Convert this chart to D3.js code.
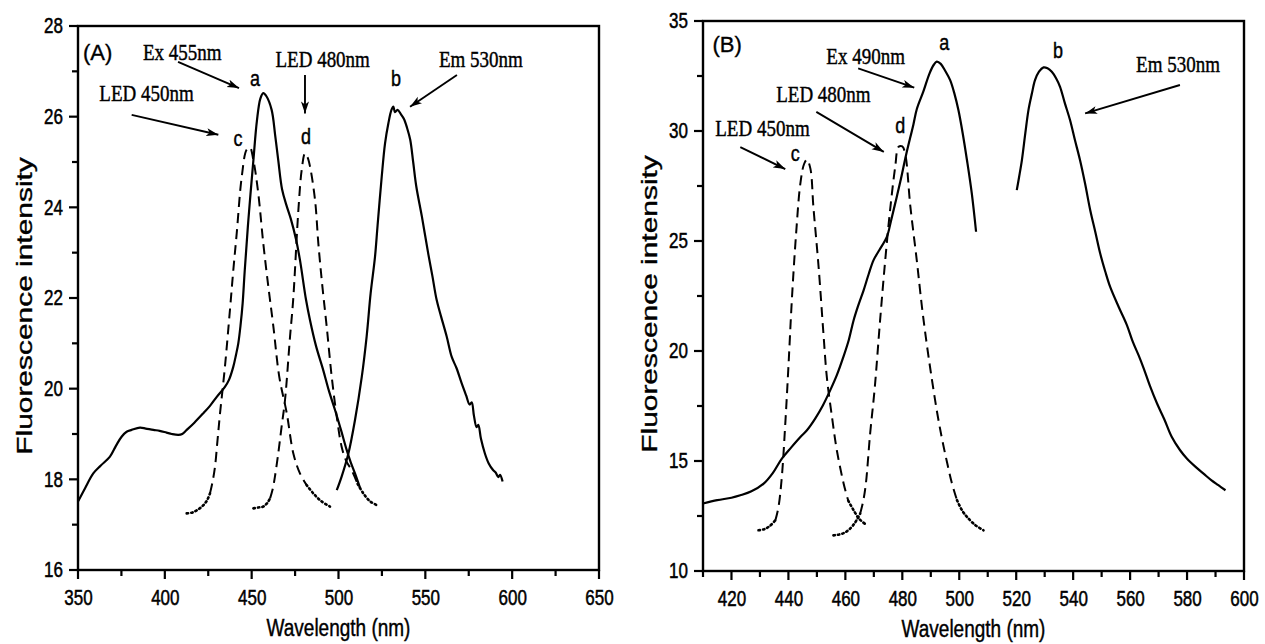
<!DOCTYPE html>
<html><head><meta charset="utf-8">
<script src="https://cdn.jsdelivr.net/npm/d3@7"></script>
<style>body{margin:0;background:#fff}svg{display:block}</style>
</head><body>
<svg id="chart" width="1265" height="644" viewBox="0 0 1265 644"></svg>
<script>
// ---------- Panel A data (wavelength nm, intensity) ----------
const exA = [[350,17.51],[354,17.8],[358.8,18.13],[363,18.3],[368.4,18.5],[372,18.75],[375.1,18.94],[378,19.05],[380.9,19.09],[385.7,19.14],[389,19.12],[393.4,19.09],[397,19.07],[401,19.03],[404,19.0],[407.8,18.98],[410,19.0],[412.6,19.09],[417,19.25],[422.2,19.46],[426,19.62],[429.9,19.82],[434.6,20.04],[437,20.2],[439.4,20.48],[441,20.75],[442.3,21.0],[443.6,21.4],[444.8,21.88],[446,22.6],[448.1,23.72],[451,25.04],[453,25.9],[455,26.4],[456.7,26.52],[458.5,26.45],[461.5,26.15],[463.5,25.6],[465.3,25.04],[467.5,24.4],[470,24.05],[472.5,23.75],[475.5,23.3],[477.8,22.84],[481.3,21.96],[483.6,21.51],[487,20.95],[491.2,20.41],[494.5,19.95],[498,19.53],[501.5,19.08],[504.7,18.65],[507,18.38],[509.5,18.13],[512.5,17.8]];
const emA = [[499,17.76],[501.8,18.06],[505.7,18.57],[509.5,19.31],[513.4,20.26],[516.2,21.15],[518.5,22.1],[521,22.9],[522.5,23.6],[524.9,24.68],[526.8,25.41],[528.7,25.85],[530.5,26.15],[531.6,26.22],[532.5,26.1],[534,26.15],[536,26.05],[537.7,25.95],[539.5,25.75],[541.3,25.49],[543,25.0],[544.8,24.46],[548,23.8],[551.8,22.95],[554,22.5],[556.5,21.96],[559,21.6],[562.3,21.15],[565.2,20.7],[568,20.45],[570.9,20.12],[573.5,19.85],[575.5,19.65],[576.7,19.7],[578,19.4],[579.5,19.15],[580.5,19.2],[582,18.9],[584.3,18.57],[586.5,18.35],[589.1,18.2],[590.5,18.15],[592,18.05],[593,18.1],[594.5,17.95]];
const led450A = [[412.6,17.25],[416,17.27],[419,17.33],[422.2,17.43],[424.5,17.55],[426,17.69],[427.5,17.95],[428.9,18.28],[430.3,18.85],[431.8,19.46],[434.6,20.48],[437.5,21.74],[439.4,22.6],[441.4,23.43],[444.3,24.68],[447.1,25.27],[449,25.32],[451,25.04],[453.8,24.31],[456.7,23.2],[459.6,22.25],[462.5,21.37],[465.9,20.26],[470.2,19.46],[474,18.57],[477.8,18.13],[481.5,17.88],[485.5,17.69],[490,17.52],[495.1,17.4]];
const led480A = [[451,17.36],[454,17.38],[456.7,17.4],[458.8,17.47],[460.6,17.58],[462.2,17.8],[463.4,18.06],[465.3,18.57],[467.2,19.15],[469.2,19.75],[472.1,21.15],[473.9,21.96],[476.9,23.94],[478.8,24.82],[480.7,25.19],[482.2,25.1],[483.6,24.9],[486.5,24.16],[488.4,23.2],[490.6,22.3],[493.2,21.37],[496.1,20.26],[499,19.38],[501.8,18.72],[504.5,18.4],[507.6,18.2],[511,17.9],[514.3,17.69],[518,17.52],[522,17.43]];

// ---------- Panel B data ----------
const exB = [[410,13.07],[415,13.22],[420,13.33],[423.1,13.44],[427,13.62],[431.3,13.97],[434.5,14.45],[437.7,15.11],[441,15.62],[444.2,16.09],[446.5,16.4],[449.4,16.93],[452,17.5],[454.7,18.22],[457,18.9],[459.3,19.73],[461.2,20.5],[462.9,21.4],[464.6,22.1],[466.4,22.76],[468.2,23.5],[469.9,24.13],[472,24.6],[474.6,25.2],[476,25.9],[477.5,26.71],[479.3,27.7],[481.3,28.9],[483.9,30.3],[485.1,31.0],[487.4,31.8],[489.5,32.6],[491,33.0],[492.1,33.15],[493.5,33.05],[495,32.75],[496.8,32.31],[498.3,31.7],[499.7,30.95],[501.2,29.9],[502.7,28.68],[504.4,27.16],[505.9,25.42]];
const emB = [[520.2,27.31],[521,27.9],[522,28.68],[523.2,29.9],[524.3,30.95],[525.5,31.7],[526.6,32.31],[528,32.7],[529.6,32.89],[531,32.85],[532.5,32.69],[534,32.4],[535.4,32.01],[537,31.3],[538.9,30.5],[540.6,29.6],[542.4,28.68],[544.2,27.6],[546,26.4],[547.8,25.4],[549.5,24.43],[551.3,23.6],[553,22.91],[556,22.0],[558.8,21.2],[561,20.4],[563,19.8],[564.8,19.2],[567,18.4],[569.5,17.6],[572,16.9],[574.6,16.1],[577.5,15.5],[580,15.1],[583,14.73],[586,14.4],[588.6,14.12],[591,13.9],[593.5,13.67]];
const led450B = [[429.5,11.85],[431.5,11.9],[433.5,12.05],[435.4,12.3],[436.5,12.9],[437.7,14.3],[438.9,16.7],[440,19.28],[441.2,22.31],[442.7,25.34],[444.2,27.62],[445.5,28.5],[446.5,28.7],[447.7,28.3],[448.8,26.5],[450.6,23.82],[452.3,20.79],[453.5,18.8],[455.3,17.0],[457,15.49],[459.4,13.97],[461,13.2],[462.9,12.76],[465,12.35],[467.6,12.08]];
const led480B = [[455.8,11.62],[459,11.7],[461,11.85],[463.2,12.16],[465.2,12.61],[466.3,13.2],[467.2,13.97],[468.7,16.25],[470.3,18.3],[472.2,21.4],[474,24.13],[475.7,26.4],[477.5,28.37],[478.7,29.28],[480,29.3],[481,28.98],[482.8,26.6],[485.1,24.1],[486.9,22.0],[488.6,20.3],[490.4,18.7],[492.1,17.3],[493.8,16.1],[495.6,15.0],[497.4,14.0],[499.2,13.22],[501,12.75],[502.7,12.46],[505.5,12.1],[508.5,11.85]];

// ---------- Ticks ----------
const xTicksA = [350,400,450,500,550,600,650];
const xMinorA = [375,425,475,525,575,625];
const yTicksA = [16,18,20,22,24,26,28];
const yMinorA = [17,19,21,23,25,27];
const xTicksB = [420,440,460,480,500,520,540,560,580,600];
const xMinorB = [410,430,450,470,490,510,530,550,570,590];
const yTicksB = [10,15,20,25,30,35];
const yMinorB = [12.5,17.5,22.5,27.5,32.5];

// ---------- Annotations (data coordinates) ----------
const labelsA = [
  {t:"(A)", x:352.9, y:27.25, kind:"panel"},
  {t:"Ex 455nm", x:387.4, y:27.25, kind:"serif"},
  {t:"LED 480nm", x:463.7, y:27.10, kind:"serif"},
  {t:"Em 530nm", x:557.8, y:27.10, kind:"serif"},
  {t:"LED 450nm", x:362.3, y:26.35, kind:"serif"},
  {t:"a", x:451.9, y:26.68, kind:"letter"},
  {t:"b", x:533.1, y:26.68, kind:"letter"},
  {t:"c", x:442.1, y:25.35, kind:"letter"},
  {t:"d", x:481.3, y:25.40, kind:"letter"}
];
const arrowsA = [
  [407.6,27.21,442.7,26.63],
  [480.7,26.92,480.7,26.07],
  [568.2,26.92,541.2,26.22],
  [380.9,26.04,430.8,25.60]
];
const labelsB = [
  {t:"(B)", x:413.3, y:33.59, kind:"panel"},
  {t:"Ex 490nm", x:453.3, y:33.04, kind:"serif"},
  {t:"Em 530nm", x:562.1, y:32.68, kind:"serif"},
  {t:"LED 480nm", x:435.7, y:31.32, kind:"serif"},
  {t:"LED 450nm", x:414.3, y:29.77, kind:"serif"},
  {t:"a", x:494.7, y:33.68, kind:"letter"},
  {t:"b", x:534.7, y:33.31, kind:"letter"},
  {t:"d", x:479.3, y:29.91, kind:"letter"},
  {t:"c", x:442.4, y:28.64, kind:"letter"}
];
const arrowsB = [
  [464.5,32.85,484.2,31.97],
  [577.5,32.09,544.2,30.80],
  [449.8,30.87,473.5,29.05],
  [423.1,29.27,438.9,28.27]
];

const svg = d3.select("#chart");
const defs = svg.append("defs");
defs.append("marker").attr("id","ah").attr("markerUnits","userSpaceOnUse")
  .attr("markerWidth",13).attr("markerHeight",9).attr("refX",12).attr("refY",4.5)
  .attr("orient","auto")
  .append("path").attr("d","M0,0.5 L12,4.5 L0,8.5 L3,4.5 Z").attr("fill","#000");

const SANS = "'Liberation Sans', Arial, Helvetica, sans-serif";
const SERIF = "'Liberation Serif', 'Times New Roman', serif";
const INK = "#000";
const TK = 1.25;

function drawPanel(p) {
  const x = d3.scaleLinear().domain(p.xDom).range([p.left, p.right]);
  const y = d3.scaleLinear().domain(p.yDom).range([p.bottom, p.top]);
  const g = svg.append("g");
  const line = d3.line().x(d => x(d[0])).y(d => y(d[1])).curve(d3.curveCatmullRom.alpha(0.5));

  p.series.forEach(s => {
    if (s.dashed) {
      const segs = [];
      let cur = null;
      s.data.forEach(d => {
        const tail = d[1] < s.thr;
        if (!cur || cur.tail !== tail) {
          const prev = cur ? cur.pts[cur.pts.length - 1] : null;
          cur = {tail, pts: prev ? [prev] : []};
          segs.push(cur);
        }
        cur.pts.push(d);
      });
      segs.forEach(sg => {
        g.append("path").attr("d", line(sg.pts)).attr("fill","none")
          .attr("stroke",INK).attr("stroke-width", sg.tail ? 2.6 : 2)
          .attr("stroke-dasharray", sg.tail ? "1.5,3" : "10,6")
          .attr("stroke-linecap", sg.tail ? "round" : "butt");
      });
    } else {
      g.append("path").attr("d", line(s.data)).attr("fill","none")
        .attr("stroke",INK).attr("stroke-width",2.2).attr("stroke-linejoin","round");
    }
  });

  // frame
  g.append("rect").attr("x",p.left).attr("y",p.top)
    .attr("width",p.right-p.left).attr("height",p.bottom-p.top)
    .attr("fill","none").attr("stroke","#000").attr("stroke-width",2.4);

  // tick marks (outward)
  const tk = g.append("g").attr("fill","#000");
  p.xMajor.forEach(v => tk.append("rect").attr("x",x(v)-1.1).attr("y",p.bottom).attr("width",2.2).attr("height",9));
  p.xMinor.forEach(v => tk.append("rect").attr("x",x(v)-1.1).attr("y",p.bottom).attr("width",2.2).attr("height",6));
  p.yMajor.forEach(v => tk.append("rect").attr("y",y(v)-1.1).attr("x",p.left-9).attr("height",2.2).attr("width",9));
  p.yMinor.forEach(v => tk.append("rect").attr("y",y(v)-1.1).attr("x",p.left-6).attr("height",2.2).attr("width",6));

  // tick labels via d3 axes
  const xa = g.append("g").attr("transform",`translate(0,${p.bottom})`)
    .call(d3.axisBottom(x).tickValues(p.xMajor).tickSize(0).tickPadding(0).tickFormat(d3.format("d")));
  const ya = g.append("g").attr("transform",`translate(${p.left},0)`)
    .call(d3.axisLeft(y).tickValues(p.yMajor).tickSize(0).tickPadding(15).tickFormat(d3.format("d")));
  xa.select(".domain").remove();
  ya.select(".domain").remove();
  g.selectAll(".tick line").remove();
  g.selectAll(".tick text").attr("font-family",SANS).attr("font-size",17).attr("fill",INK)
    .attr("stroke",INK).attr("stroke-width",0.4).attr("transform",`scale(1,${TK})`);
  xa.selectAll(".tick text").attr("y",20/TK).attr("dy","0.71em");

  // axis titles
  g.append("text").attr("transform",`translate(${(p.left+p.right)/2},${p.bottom+66}) scale(1,1.3)`)
    .attr("text-anchor","middle").attr("font-family",SANS).attr("font-size",19).attr("fill",INK)
    .attr("stroke",INK).attr("stroke-width",0.35)
    .text("Wavelength (nm)");
  g.append("text").attr("transform",`translate(${p.ytx},${p.yty}) scale(1,1.36) rotate(-90)`)
    .attr("text-anchor","middle").attr("font-family",SANS).attr("font-size",22).attr("fill",INK)
    .attr("stroke",INK).attr("stroke-width",0.35)
    .text("Fluorescence intensity");

  // annotations
  p.labels.forEach(l => {
    const t = g.append("text").attr("fill",INK).attr("stroke",INK).attr("stroke-width",0.35);
    if (l.kind === "panel") {
      t.attr("x",x(l.x)).attr("y",y(l.y)).attr("font-family",SANS).attr("font-size",22).text(l.t);
    } else if (l.kind === "serif") {
      t.attr("transform",`translate(${x(l.x)},${y(l.y)}) scale(1,1.25)`)
        .attr("font-family",SERIF).attr("font-size",19).text(l.t);
    } else {
      t.attr("transform",`translate(${x(l.x)},${y(l.y)}) scale(1,1.25)`)
        .attr("text-anchor","middle").attr("font-family",SANS).attr("font-size",18).text(l.t);
    }
  });
  p.arrows.forEach(a => {
    g.append("line").attr("x1",x(a[0])).attr("y1",y(a[1])).attr("x2",x(a[2])).attr("y2",y(a[3]))
      .attr("stroke","#000").attr("stroke-width",1.9).attr("marker-end","url(#ah)");
  });
}

drawPanel({
  left:78, right:599, top:26, bottom:570,
  xDom:[350,650], yDom:[16,28],
  xMajor:xTicksA, xMinor:xMinorA, yMajor:yTicksA, yMinor:yMinorA,
  ytx:32, yty:306,
  series:[
    {data:exA}, {data:emA},
    {data:led450A, dashed:true, thr:17.75},
    {data:led480A, dashed:true, thr:17.75}
  ],
  labels:labelsA, arrows:arrowsA
});
drawPanel({
  left:703, right:1244, top:21, bottom:571,
  xDom:[410,600], yDom:[10,35],
  xMajor:xTicksB, xMinor:xMinorB, yMajor:yTicksB, yMinor:yMinorB,
  ytx:657, yty:304,
  series:[
    {data:exB}, {data:emB},
    {data:led450B, dashed:true, thr:12.8},
    {data:led480B, dashed:true, thr:12.8}
  ],
  labels:labelsB, arrows:arrowsB
});
</script>
</body></html>
